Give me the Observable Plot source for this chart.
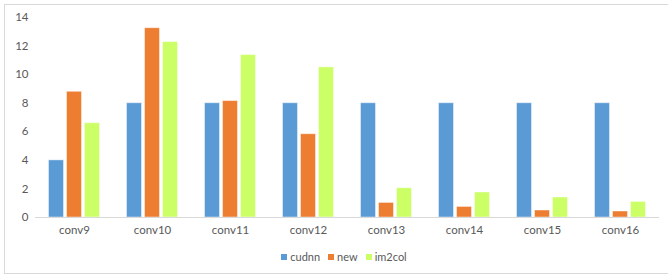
<!DOCTYPE html>
<html>
<head>
<meta charset="utf-8">
<script src="https://cdn.jsdelivr.net/npm/d3@7"></script>
<script src="https://cdn.jsdelivr.net/npm/@observablehq/plot@0.6"></script>
<style>
  html, body { margin: 0; padding: 0; background: #fff; }
  #wrap { position: relative; width: 668px; height: 278px; overflow: hidden; font-family: Lato, "Open Sans", sans-serif; }
  #frame { position: absolute; left: 4px; top: 4px; width: 680px; height: 270px; border: 1px solid #d9d9d9; box-sizing: border-box; }
  #chart { position: absolute; left: 0; top: 0; }
  #legend { position: absolute; left: 10px; top: 250px; width: 668px; display: flex; justify-content: center; gap: 8px; font-size: 11px; color: #595959; }
  #legend span { display: inline-flex; align-items: center; gap: 3px; }
  #legend i { display: inline-block; width: 6px; height: 6px; }
</style>
</head>
<body>
<div id="wrap">
  <div id="frame"></div>
  <div id="chart"></div>
  <div id="legend"></div>
</div>
<script>
const categories = ["conv9", "conv10", "conv11", "conv12", "conv13", "conv14", "conv15", "conv16"];
const series = ["cudnn", "new", "im2col"];
const cudnn  = [4, 8, 8, 8, 8, 8, 8, 8];
const newVals = [8.8, 13.25, 8.15, 5.83, 1.02, 0.74, 0.49, 0.42];
const im2col = [6.6, 12.28, 11.37, 10.51, 2.05, 1.75, 1.4, 1.09];
const colors = ["#5B9BD5", "#ED7D31", "#CCFF66"];
const yTicks = [0, 2, 4, 6, 8, 10, 12, 14];

const columns = [cudnn, newVals, im2col];
const data = [];
categories.forEach((c, i) => series.forEach((s, j) => data.push({cat: c, series: s, value: columns[j][i]})));

const chart = Plot.plot({
  width: 668,
  height: 240,
  marginLeft: 33.5,
  marginRight: 7.3,
  marginTop: 17,
  marginBottom: 23,
  style: {fontFamily: "Lato, 'Open Sans', sans-serif", fontSize: "11.5px", color: "#595959", background: "transparent"},
  fx: {domain: categories, padding: 0, label: null, axis: "bottom", tickSize: 0, tickPadding: 8},
  x: {domain: series, paddingInner: 0.19, paddingOuter: 0.74, axis: null},
  y: {domain: [0, 14], ticks: yTicks, label: null, tickSize: 0, tickPadding: 7},
  color: {domain: series, range: colors},
  marks: [
    Plot.barY(data, {fx: "cat", x: "series", y: "value", fill: "series", stroke: "#ffffff", strokeOpacity: 0.45, strokeWidth: 1}),
    Plot.ruleY([0], {stroke: "#d9d9d9", strokeWidth: 1})
  ]
});
document.getElementById("chart").appendChild(chart);

const legend = document.getElementById("legend");
series.forEach((s, j) => {
  const span = document.createElement("span");
  const sw = document.createElement("i");
  sw.style.background = colors[j];
  span.appendChild(sw);
  span.appendChild(document.createTextNode(s));
  legend.appendChild(span);
});
</script>
</body>
</html>
